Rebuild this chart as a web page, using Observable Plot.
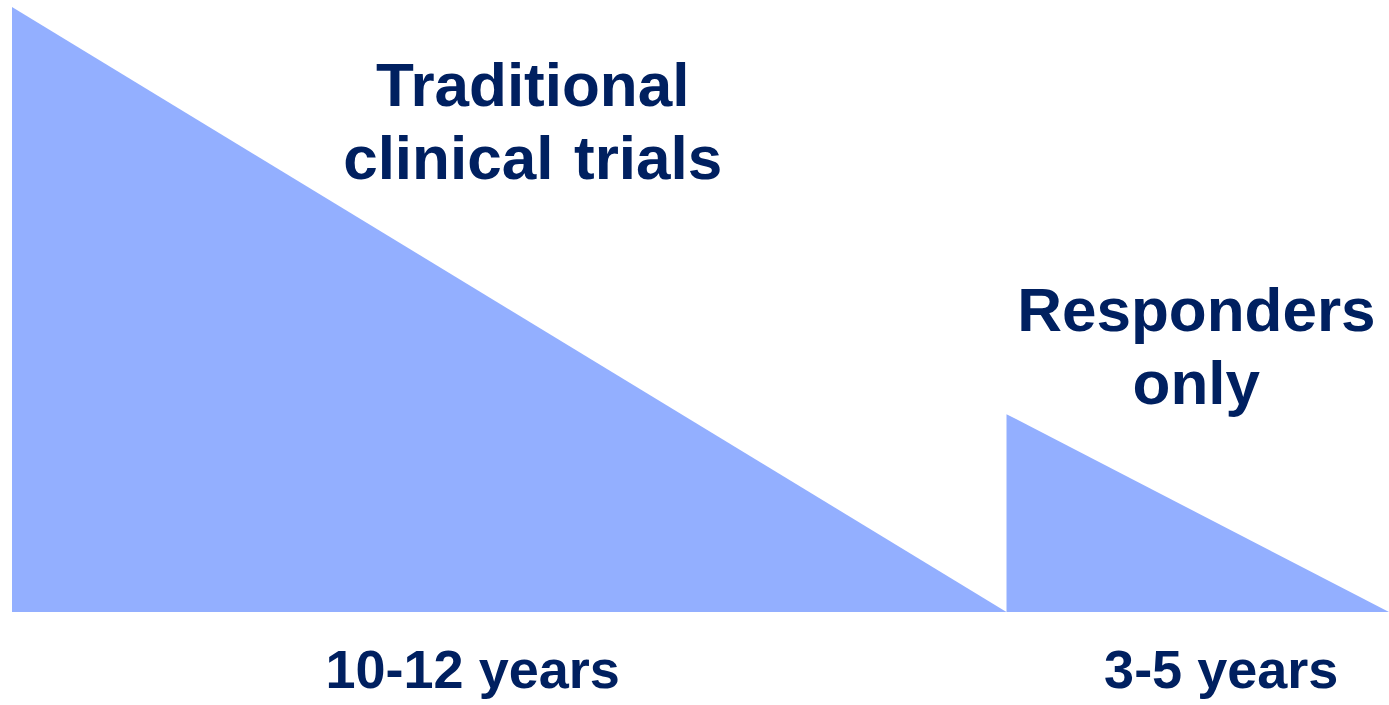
<!DOCTYPE html>
<html>
<head>
<meta charset="utf-8">
<script src="https://cdn.jsdelivr.net/npm/d3@7"></script>
<script src="https://cdn.jsdelivr.net/npm/@observablehq/plot@0.6"></script>
<style>
  html, body { margin: 0; padding: 0; background: #ffffff; }
  #chart svg { display: block; }
</style>
</head>
<body>
<div id="chart"></div>
<script>
// Two phases: duration (relative units) and relative volume (height of the wedge)
const phases = ["Traditional clinical trials", "Responders only"];
const phaseStart = [0, 26];
const phaseEnd = [26, 36];
const phaseHeight = [100, 32.7];

const titleLabels = ["Traditional\nclinical\u2004trials", "Responders\nonly"];
const titleX = [13.6, 30.95];
const titleY = [71.6, 34.4];

const durationLabels = ["10-12 years", "3-5 years"];
const durationX = [12.03, 31.6];
const durationY = [-12.5, -12.4];

// Build triangle outlines from the arrays
const wedges = phases.flatMap((p, i) => [
  {phase: p, x: phaseStart[i], y: phaseHeight[i]},
  {phase: p, x: phaseEnd[i], y: 0}
]);
const titles = titleLabels.map((t, i) => ({text: t, x: titleX[i], y: titleY[i]}));
const durations = durationLabels.map((t, i) => ({text: t, x: durationX[i], y: durationY[i]}));

const fillColor = "#93afff";
const textColor = "#002060";

const chart = Plot.plot({
  width: 1389,
  height: 705,
  marginLeft: 12,
  marginRight: 0,
  marginTop: 7,
  marginBottom: 93,
  x: {domain: [0, 36], axis: null},
  y: {domain: [0, 100], axis: null},
  style: {fontFamily: "'Liberation Sans', Arial, sans-serif", background: "#ffffff"},
  marks: [
    Plot.areaY(wedges, {x: "x", y: "y", z: "phase", fill: fillColor, curve: "linear"}),
    Plot.text(titles, {
      x: "x", y: "y", text: "text",
      lineAnchor: "bottom", lineHeight: 1.18,
      fontSize: 62, fontWeight: "bold", fill: textColor, textAnchor: "middle"
    }),
    Plot.text(durations, {
      x: "x", y: "y", text: "text",
      lineAnchor: "bottom",
      fontSize: 54, fontWeight: "bold", fill: textColor, textAnchor: "middle"
    })
  ]
});
document.getElementById("chart").append(chart);
</script>
</body>
</html>
